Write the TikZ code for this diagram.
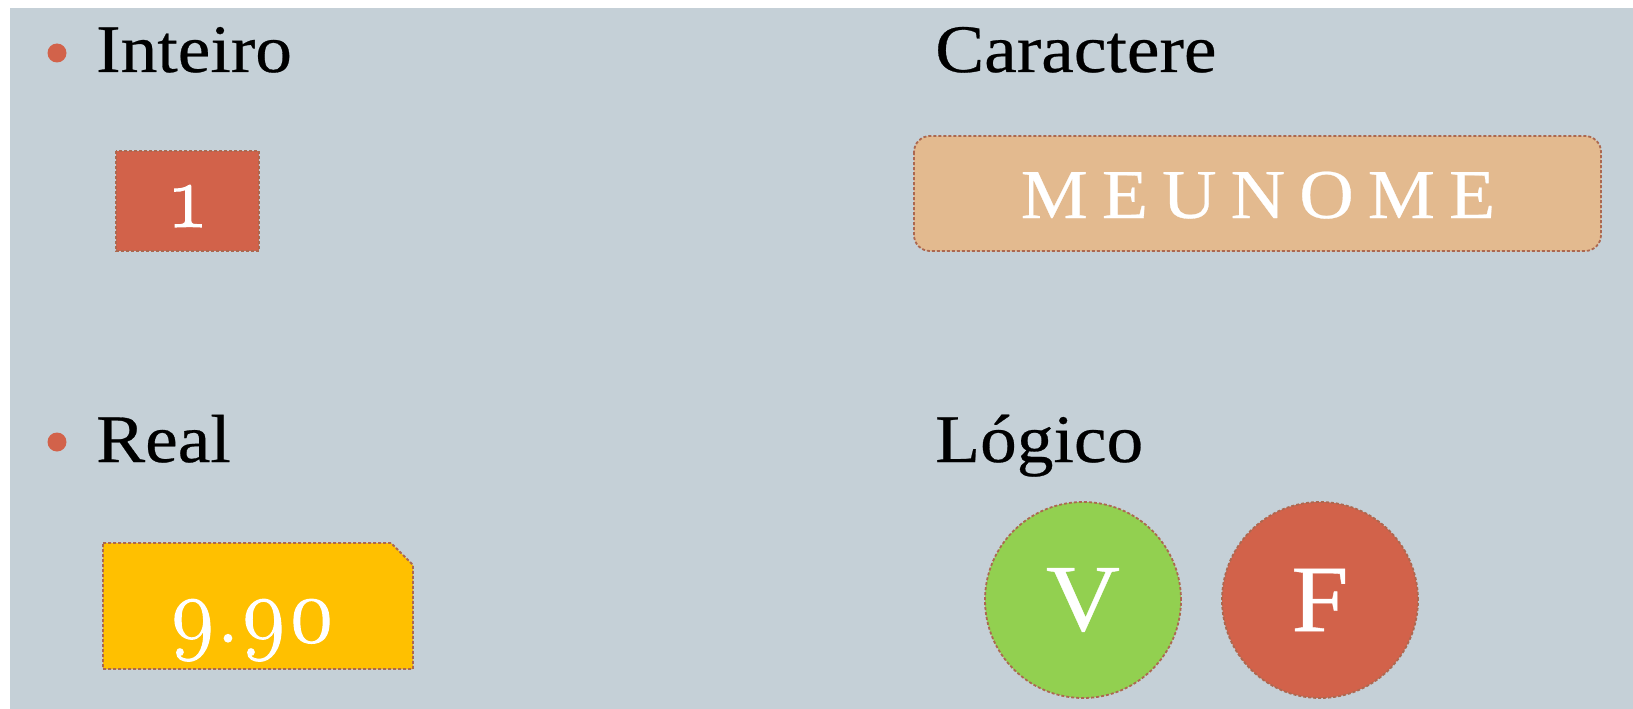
\documentclass[tikz,border=0pt]{standalone}
\usepackage{fontspec}
\setmainfont[FakeStretch=1.08,FakeBold=0.4]{Liberation Serif}
\newfontfamily\digitfont[Numbers=OldStyle,FakeBold=1.2]{Latin Modern Roman}
\definecolor{bg}{RGB}{197,208,215}
\definecolor{brick}{RGB}{210,98,74}
\definecolor{sand}{RGB}{227,186,143}
\definecolor{amber}{RGB}{255,192,0}
\definecolor{leaf}{RGB}{146,208,80}
\definecolor{rim}{RGB}{172,104,80}
\tikzset{
  heading/.style={anchor=base west, inner sep=0pt, font=\fontsize{68}{80}\selectfont},
  dot/.style={circle, fill=brick, inner sep=0pt, minimum size=19pt},
  rimline/.style={draw=rim, line width=1.8pt, dash pattern=on 3pt off 2pt},
  value/.style={anchor=base, inner sep=0pt, text=white},
}
\begin{document}
\begin{tikzpicture}[x=1pt,y=-1pt]
  \useasboundingbox (0,0) rectangle (1633,709);
  \fill[white] (0,0) rectangle (1633,709);
  \fill[bg] (10,8) rectangle (1633,709);

  % headings with bullets
  \node[dot] (b1) at (57,53) {};
  \node[heading] (tint) at (96,72) {Inteiro};
  \node[dot] (b2) at (57,442) {};
  \node[heading] (treal) at (96,462) {Real};
  \node[heading] (tchar) at (935,72) {Caractere};
  \node[heading] (tlog) at (935,462) {Lógico};

  % integer value
  \fill[brick] (116,151) rectangle (259,251);
  \draw[rimline] (116,151) rectangle (259,251);
  \node[value, font=\digitfont\fontsize{90}{100}\selectfont] (vint) at (188,227) {1};

  % character value
  \fill[sand, rounded corners=16pt] (914,136) rectangle (1601,251);
  \draw[rimline, rounded corners=16pt] (914,136) rectangle (1601,251);
  \node[value, font=\fontsize{70}{80}\selectfont] (vchar) at (1258,218) {\spaceskip=14pt M E U N O M E};

  % real value (snipped corner box)
  \fill[amber] (103,543) -- (391,543) -- (413,565) -- (413,669) -- (103,669) -- cycle;
  \draw[rimline] (103,543) -- (391,543) -- (413,565) -- (413,669) -- (103,669) -- cycle;
  \node[value, font=\digitfont\fontsize{92}{100}\selectfont] (vreal) at (252,642) {9.90};

  % logical values
  \node[circle, fill=leaf, rimline, minimum size=196pt, inner sep=0pt,
        text=white, font=\fontsize{95}{110}\selectfont] (vtrue) at (1083,600) {V};
  \node[circle, fill=brick, rimline, minimum size=196pt, inner sep=0pt,
        text=white, font=\fontsize{95}{110}\selectfont] (vfalse) at (1320,600) {F};
\end{tikzpicture}
\end{document}
